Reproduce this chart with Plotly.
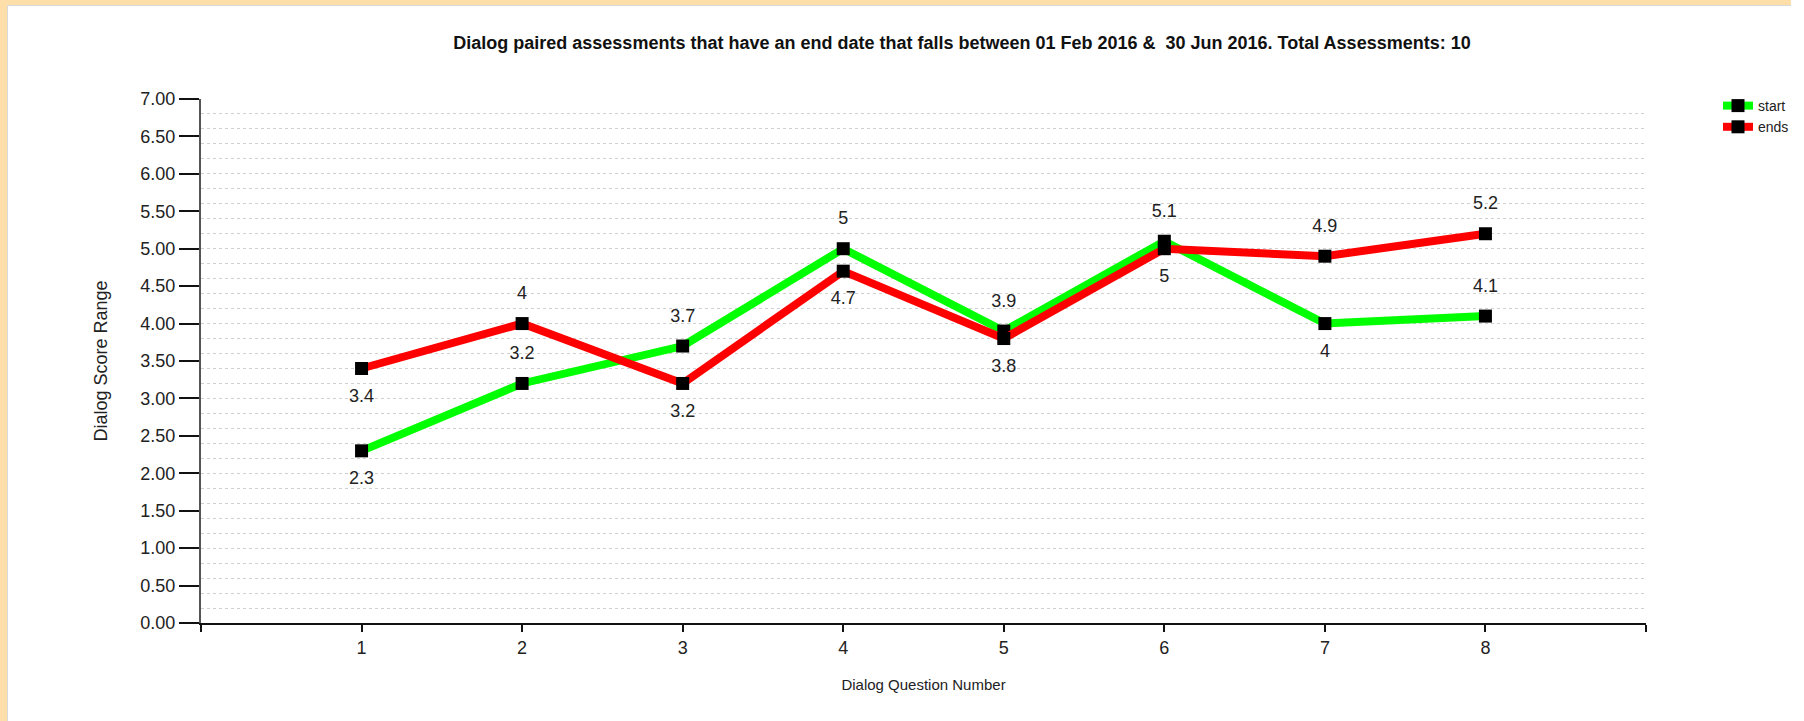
import plotly.graph_objects as go

questions = [1, 2, 3, 4, 5, 6, 7, 8]
start_scores = [2.3, 3.2, 3.7, 5.0, 3.9, 5.1, 4.0, 4.1]
end_scores = [3.4, 4.0, 3.2, 4.7, 3.8, 5.0, 4.9, 5.2]
start_label_pos = ["bottom center", "top center", "top center", "top center",
                   "top center", "top center", "bottom center", "top center"]
end_label_pos = ["bottom center", "top center", "bottom center", "bottom center",
                 "bottom center", "bottom center", "top center", "top center"]
y_ticks = [0, 0.5, 1, 1.5, 2, 2.5, 3, 3.5, 4, 4.5, 5, 5.5, 6, 6.5, 7]
x_ticks = [0, 1, 2, 3, 4, 5, 6, 7, 8, 9]
x_tick_text = ["", "1", "2", "3", "4", "5", "6", "7", "8", ""]

FONT = "Liberation Sans, Arial, sans-serif"
PEACH = "#FFDFA9"

W, H = 1804, 721
L, R, T, B = 201, 1646, 99, 623
pw, ph = R - L, B - T


def px2x(px):
    return (px - L) / pw


def py2y(py):
    return (B - py) / ph


def lbl(v):
    return f"{v:g}"


fig = go.Figure()

series = [
    ("start", start_scores, start_label_pos, "#00FF00"),
    ("ends", end_scores, end_label_pos, "#FF0000"),
]
for name, vals, pos, col in series:
    fig.add_trace(go.Scatter(
        x=questions, y=vals, name=name, mode="lines+markers",
        line=dict(color=col, width=8),
        marker=dict(symbol="square", size=13, color="black"),
    ))
for name, vals, pos, col in series:
    fig.add_trace(go.Scatter(
        x=questions, y=vals, mode="markers+text", showlegend=False,
        marker=dict(size=30, color="rgba(0,0,0,0)"),
        text=[lbl(v) for v in vals], textposition=pos,
        textfont=dict(family=FONT, size=18, color="#222"),
        cliponaxis=False, hoverinfo="skip",
    ))
# invisible trace to carry the dotted grid axis
fig.add_trace(go.Scatter(x=[None], y=[None], yaxis="y2", showlegend=False,
                         hoverinfo="skip"))

fig.update_layout(
    width=W, height=H,
    margin=dict(l=L, r=W - R, t=T, b=H - B, autoexpand=False),
    paper_bgcolor="white", plot_bgcolor="rgba(0,0,0,0)",
    title=dict(
        text="<b>Dialog paired assessments that have an end date that falls between 01 Feb 2016 &amp;  30 Jun 2016. Total Assessments: 10</b>",
        font=dict(family=FONT, size=18, color="#111"),
        x=px2x(962), xref="paper", xanchor="center",
        y=1 - 43 / H, yref="container", yanchor="middle",
    ),
    xaxis=dict(
        range=[0, 9], tickvals=x_ticks, ticktext=x_tick_text,
        showgrid=False, zeroline=False,
        showline=True, linecolor="#111", linewidth=2,
        ticks="outside", ticklen=7, tickwidth=2, tickcolor="#111",
        tickfont=dict(family=FONT, size=18, color="#222"),
        title=dict(text="Dialog Question Number",
                   font=dict(family=FONT, size=15, color="#222"), standoff=23),
    ),
    yaxis=dict(
        range=[0, 7], tickvals=y_ticks, tickformat=".2f",
        showgrid=False, zeroline=False,
        showline=True, linecolor="#555", linewidth=2,
        ticks="outside", ticklen=20, tickwidth=2, tickcolor="#111",
        tickfont=dict(family=FONT, size=18, color="#222"),
        title=dict(text="Dialog Score Range",
                   font=dict(family=FONT, size=18, color="#222"), standoff=28),
    ),
    yaxis2=dict(
        range=[0, 7], overlaying="y", dtick=0.2, tick0=0,
        showgrid=True, griddash="dot", gridcolor="#d0d0d0", gridwidth=1,
        showticklabels=False, ticks="", zeroline=False, showline=False,
        layer="below traces",
    ),
    legend=dict(
        x=px2x(1718), y=py2y(90), xanchor="left", yanchor="top",
        font=dict(family=FONT, size=14, color="#222"),
        bgcolor="rgba(0,0,0,0)", itemwidth=30, tracegroupgap=0,
    ),
    showlegend=True,
    shapes=[
        dict(type="rect", xref="paper", yref="paper", layer="below",
             x0=px2x(0), x1=px2x(7), y0=py2y(H + 5), y1=py2y(0),
             fillcolor=PEACH, line=dict(width=0)),
        dict(type="rect", xref="paper", yref="paper", layer="below",
             x0=px2x(0), x1=px2x(1791), y0=py2y(5), y1=py2y(0),
             fillcolor=PEACH, line=dict(width=0)),
        dict(type="line", xref="paper", yref="paper", layer="below",
             x0=px2x(7.5), x1=px2x(7.5), y0=py2y(H + 5), y1=py2y(5.5),
             line=dict(color="#d8d8d8", width=1)),
        dict(type="line", xref="paper", yref="paper", layer="below",
             x0=px2x(7.5), x1=px2x(1791), y0=py2y(5.5), y1=py2y(5.5),
             line=dict(color="#d8d8d8", width=1)),
    ],
)

fig.write_html("out.html", config={"displayModeBar": False},
               post_script="document.body.style.margin='0';")
